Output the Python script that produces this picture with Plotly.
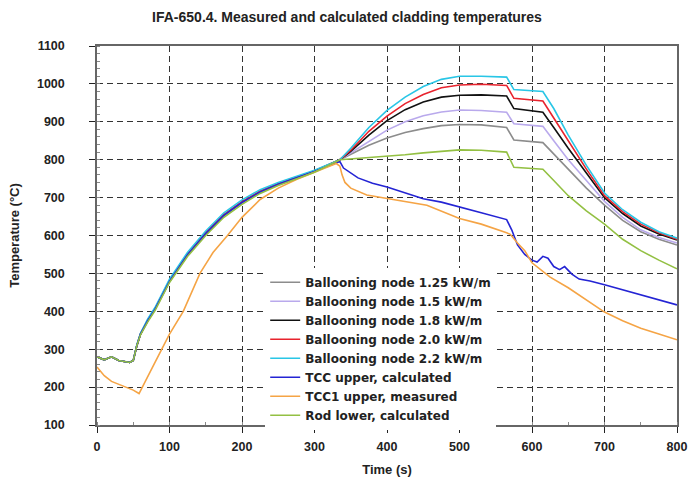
import plotly.graph_objects as go

# ---- data ----
t_bn = [0, 10, 20, 30, 45, 50, 55, 60, 70, 80, 100, 125, 150, 175, 200, 225, 250, 275, 300, 335,
        350, 375, 400, 425, 450, 475, 500, 530, 565, 575, 615, 630, 650, 675, 700, 725, 750, 775, 800]

bn_125 = [280, 272, 280, 270, 265, 270, 310, 340, 375, 405, 478, 548, 604, 652, 686, 714, 734, 751, 769, 800,
          815, 838, 857, 872, 882, 890, 893, 892, 885, 852, 845, 815, 775, 725, 680, 640, 610, 590, 575]
bn_15 = [280, 272, 280, 270, 265, 270, 310, 340, 375, 405, 479, 549, 605, 653, 687, 715, 735, 752, 769, 800,
         818, 850, 878, 900, 916, 926, 931, 930, 925, 895, 888, 850, 800, 745, 690, 648, 615, 595, 580]
bn_18 = [280, 272, 280, 270, 265, 270, 310, 340, 376, 406, 480, 550, 606, 654, 688, 716, 736, 752, 770, 800,
         822, 865, 903, 932, 952, 965, 970, 971, 968, 935, 925, 885, 830, 765, 700, 658, 625, 604, 588]
bn_20 = [280, 272, 280, 270, 265, 270, 310, 340, 377, 407, 481, 551, 607, 655, 689, 717, 737, 753, 770, 800,
         825, 875, 915, 948, 972, 990, 997, 999, 996, 962, 955, 910, 850, 775, 705, 663, 630, 607, 590]
bn_22 = [280, 272, 280, 270, 265, 270, 312, 342, 380, 410, 485, 556, 612, 660, 694, 721, 740, 755, 772, 800,
         830, 885, 930, 965, 993, 1012, 1020, 1020, 1018, 985, 980, 935, 865, 785, 712, 668, 635, 610, 593]

t_rod = t_bn
rod_lower = [280, 272, 280, 270, 265, 270, 310, 338, 372, 402, 476, 545, 600, 648, 682, 711, 732, 749, 767, 800,
             802, 805, 808, 813, 818, 822, 826, 825, 820, 780, 775, 745, 705, 665, 630, 590, 560, 535, 512]

t_tcc = [0, 10, 20, 30, 45, 50, 55, 60, 70, 80, 100, 125, 150, 175, 200, 225, 250, 275, 300, 335,
         340, 360, 380, 400, 425, 450, 475, 500, 530, 565, 572, 580, 590, 600, 607, 615, 622, 630, 638,
         645, 655, 665, 680, 700, 725, 750, 775, 800]
tcc_calc = [280, 272, 280, 270, 265, 270, 310, 340, 375, 405, 479, 549, 605, 653, 687, 715, 735, 752, 769, 795,
            778, 752, 738, 728, 713, 697, 688, 676, 660, 642, 615, 575, 550, 535, 530, 545, 540, 518, 510,
            518, 498, 485, 480, 470, 457, 444, 430, 417]

t_meas = [0, 10, 20, 30, 40, 50, 58, 65, 80, 100, 119, 142, 160, 180, 200, 225, 250, 275, 300, 330,
          335, 338, 342, 350, 372, 400, 455, 500, 530, 565, 570, 580, 590, 600, 625, 650, 675, 700,
          725, 750, 775, 800]
tcc1_meas = [253, 230, 215, 208, 200, 192, 183, 210, 265, 340, 400, 500, 555, 600, 648, 695, 725, 748, 768, 790,
             783, 760, 740, 725, 707, 698, 680, 645, 630, 607, 603, 580, 560, 528, 490, 462, 430, 398,
             375, 355, 340, 325]

series = [
    ("Ballooning node 1.25 kW/m", t_bn, bn_125, "#8c8c8c"),
    ("Ballooning node 1.5 kW/m", t_bn, bn_15, "#b9a9ec"),
    ("Ballooning node 1.8 kW/m", t_bn, bn_18, "#111111"),
    ("Ballooning node 2.0 kW/m", t_bn, bn_20, "#e8232d"),
    ("Ballooning node 2.2 kW/m", t_bn, bn_22, "#29c6e6"),
    ("TCC upper, calculated", t_tcc, tcc_calc, "#2424d4"),
    ("TCC1 upper, measured", t_meas, tcc1_meas, "#f5a445"),
    ("Rod lower, calculated", t_rod, rod_lower, "#93c043"),
]

x_ticks = [0, 100, 200, 300, 400, 500, 600, 700, 800]
y_ticks = [100, 200, 300, 400, 500, 600, 700, 800, 900, 1000, 1100]

fig = go.Figure()
for name, xs, ys, col in series:
    fig.add_trace(go.Scatter(x=xs, y=ys, mode="lines", name=name,
                             line=dict(color=col, width=1.6)))

font_main = "Liberation Sans, Arial, sans-serif"
fig.update_layout(
    width=694, height=487,
    margin=dict(l=97, r=17, t=46, b=62, autoexpand=False),
    paper_bgcolor="white", plot_bgcolor="white",
    font=dict(family=font_main, color="#222222"),
    title=dict(text="<b>IFA-650.4. Measured and calculated cladding temperatures</b>",
               x=0.5, xanchor="center", y=0.965, yanchor="middle", yref="container",
               font=dict(size=14, color="#222222")),
    showlegend=True,
    legend=dict(x=0.29, y=0.415, xanchor="left", yanchor="top",
                bgcolor="white", borderwidth=0,
                font=dict(size=12, color="#222222", family="DejaVu Sans", weight="bold"),
                itemwidth=30, tracegroupgap=0),
)
common = dict(
    showgrid=True, gridcolor="#333333", griddash="6px,4px", gridwidth=1,
    showline=True, linecolor="#666666", linewidth=1.5, mirror=True,
    ticks="outside", ticklen=6, tickcolor="#222222",
    zeroline=False, automargin=False,
)
fig.update_xaxes(
    range=[0, 800], tickvals=x_ticks, ticktext=[f"<b>{v}</b>" for v in x_ticks],
    title=dict(text="<b>Time (s)</b>", font=dict(size=13), standoff=12),
    tickfont=dict(size=12.5, color="#222222"), ticklabelstandoff=3,
    minor=dict(dtick=50, ticks="inside", ticklen=3, tickcolor="#888888", showgrid=False),
    **common,
)
fig.update_yaxes(
    range=[100, 1100], tickvals=y_ticks, ticktext=[f"<b>{v}</b>" for v in y_ticks],
    title=dict(text="<b>Temperature (°C)</b>", font=dict(size=13), standoff=14),
    tickfont=dict(size=12.5, color="#222222"), ticklabelstandoff=22,
    minor=dict(dtick=20, ticks="inside", ticklen=3, tickcolor="#888888", showgrid=False),
    **common,
)

fig.write_html("out.html", config={"displayModeBar": False},
               post_script="document.body.style.margin='0px';")
